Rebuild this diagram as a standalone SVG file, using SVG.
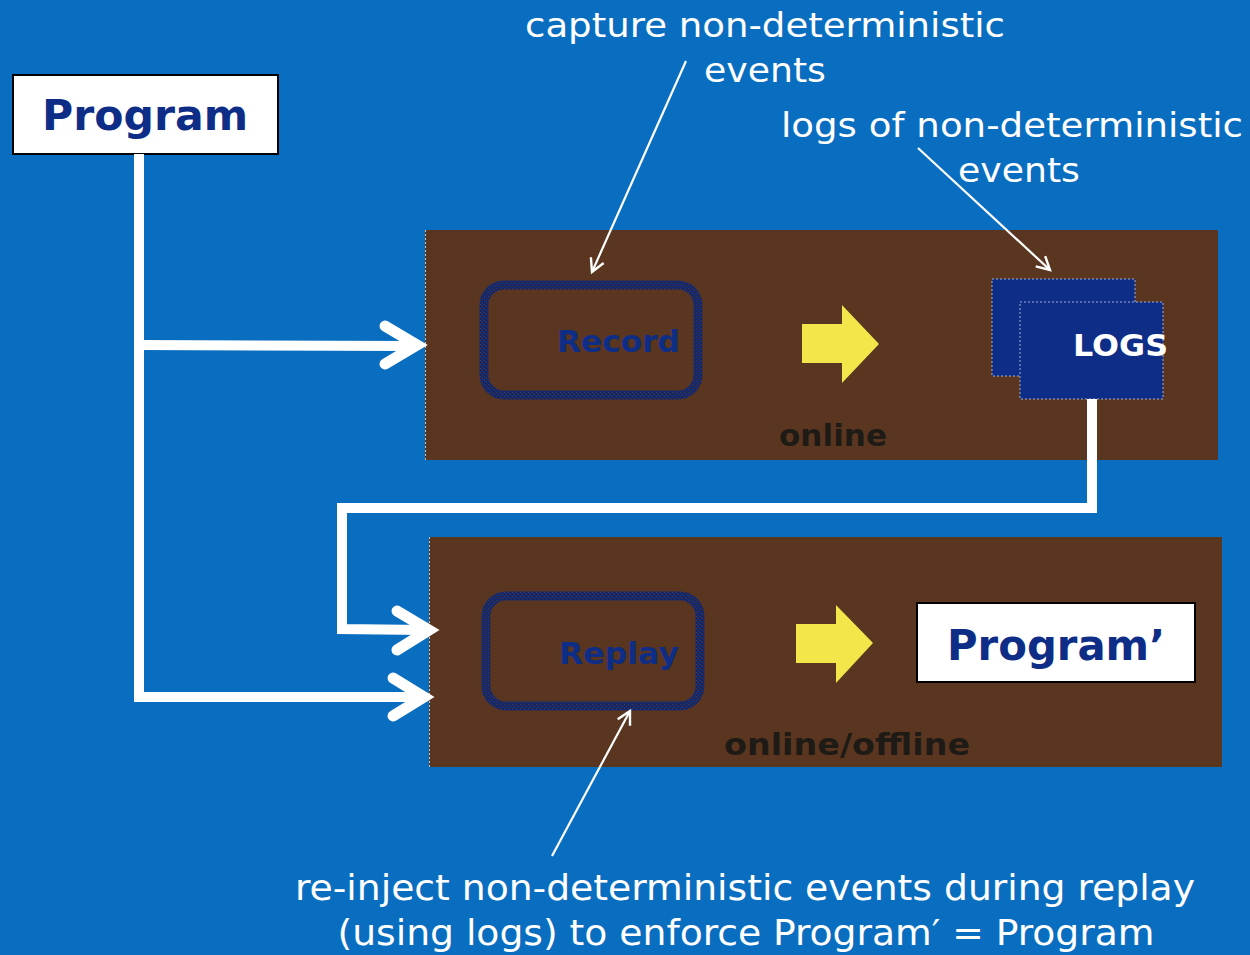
<svg xmlns="http://www.w3.org/2000/svg" width="1250" height="955" viewBox="0 0 1250 955">
<defs>
<style>
.lbl{font-family:"DejaVu Sans","Liberation Sans",sans-serif;fill:#fff;font-size:34px;text-anchor:middle}
.bot{font-family:"DejaVu Sans Condensed","DejaVu Sans",sans-serif;fill:#fff;font-size:36px;text-anchor:middle}
.big{font-family:"DejaVu Sans","Liberation Sans",sans-serif;fill:#0d2d87;font-size:42px;font-weight:bold;text-anchor:middle}
.mid{font-family:"DejaVu Sans","Liberation Sans",sans-serif;fill:#0d2d87;font-size:31px;font-weight:bold;text-anchor:end}
.dark{font-family:"DejaVu Sans","Liberation Sans",sans-serif;fill:#1e1a16;font-size:30px;font-weight:bold;text-anchor:middle}
.panel{fill:#5a3620}
.wire{fill:none;stroke:#fff;stroke-width:10}
.chev{fill:none;stroke:#fff;stroke-width:11;stroke-linecap:round;stroke-linejoin:miter}
.thin{fill:none;stroke:#fff;stroke-width:2.2}
.yarrow{fill:#f2e64a}
.wbox{fill:#fff;stroke:#000;stroke-width:2}
.step{fill:none;stroke:url(#tex);stroke-width:9}
.log{fill:#0d2d87;stroke:#9fb0d8;stroke-width:1;stroke-dasharray:2 2}
</style>
<pattern id="tex" width="4" height="4" patternUnits="userSpaceOnUse">
<rect width="4" height="4" fill="#14286e"/>
<rect x="0" y="0" width="1" height="1" fill="#5a3620"/>
<rect x="2" y="2" width="1" height="1" fill="#5a3620"/>
</pattern>
<marker id="ah" markerWidth="18" markerHeight="18" refX="15" refY="9" orient="auto" markerUnits="userSpaceOnUse">
<path d="M2,2 L15,9 L2,16" fill="none" stroke="#fff" stroke-width="2.4"/>
</marker>
</defs>
<rect width="1250" height="955" fill="#0a6ec0"/>

<g id="panel-online">
<rect class="panel" x="425" y="230" width="793" height="230"/>
<line x1="425.5" y1="230" x2="425.5" y2="460" stroke="#c9c2b8" stroke-width="1" stroke-dasharray="2 2"/>
<text class="dark" x="833" y="446" textLength="108" lengthAdjust="spacingAndGlyphs">online</text>
</g>
<g id="panel-offline">
<rect class="panel" x="429" y="537" width="793" height="230"/>
<line x1="429.5" y1="537" x2="429.5" y2="767" stroke="#c9c2b8" stroke-width="1" stroke-dasharray="2 2"/>
<text class="dark" x="847" y="755" textLength="246" lengthAdjust="spacingAndGlyphs">online/offline</text>
</g>

<g id="program">
<rect class="wbox" x="13" y="75" width="265" height="79"/>
<text class="big" x="145" y="130" textLength="206" lengthAdjust="spacingAndGlyphs">Program</text>
</g>

<g id="record">
<rect class="step" x="484" y="285" width="214" height="110" rx="20"/>
<text class="mid" x="680" y="352" textLength="123" lengthAdjust="spacingAndGlyphs">Record</text>
</g>

<g id="arrow-record">
<path class="yarrow" d="M802,324 H842 V305 L879,344 L842,383 V363 H802 Z"/>
</g>

<g id="logs">
<rect class="log" x="992" y="279" width="143" height="97"/>
<rect class="log" x="1020" y="302" width="143" height="97"/>
<text x="1073" y="356" textLength="95" lengthAdjust="spacingAndGlyphs" style="font-family:'DejaVu Sans','Liberation Sans',sans-serif;fill:#fff;font-size:30px;font-weight:bold">LOGS</text>
</g>

<g id="replay">
<rect class="step" x="486" y="596" width="214" height="110" rx="20"/>
<text class="mid" x="679" y="664" textLength="120" lengthAdjust="spacingAndGlyphs">Replay</text>
</g>

<g id="arrow-replay">
<path class="yarrow" d="M796,624 H836 V605 L873,643 L836,683 V663 H796 Z"/>
</g>

<g id="program-prime">
<rect class="wbox" x="917" y="603" width="278" height="79"/>
<text class="big" x="1056" y="660" textLength="218" lengthAdjust="spacingAndGlyphs">Program’</text>
</g>

<g id="connectors">
<path class="wire" d="M139,154 V697 H415"/>
<path class="wire" d="M139,345 L412,346"/>
<path class="wire" d="M1092,399 V508 H342 V629 L425,630"/>
<path class="chev" d="M385,326 L417,345 L385,364"/>
<path class="chev" d="M397,611 L429,630 L397,650"/>
<path class="chev" d="M393,678 L424,697 L393,716"/>
<line class="thin" x1="686" y1="61" x2="592" y2="272" marker-end="url(#ah)"/>
<line class="thin" x1="918" y1="148" x2="1050" y2="270" marker-end="url(#ah)"/>
<line class="thin" x1="552" y1="856" x2="630" y2="711" marker-end="url(#ah)"/>
</g>

<g id="labels">
<text class="lbl" x="765" y="37" textLength="480" lengthAdjust="spacingAndGlyphs">capture non-deterministic</text>
<text class="lbl" x="765" y="82" textLength="122" lengthAdjust="spacingAndGlyphs">events</text>
<text class="lbl" x="1012" y="137" textLength="462" lengthAdjust="spacingAndGlyphs">logs of non-deterministic</text>
<text class="lbl" x="1019" y="182" textLength="122" lengthAdjust="spacingAndGlyphs">events</text>
<text class="bot" x="745" y="900" textLength="900" lengthAdjust="spacingAndGlyphs">re-inject non-deterministic events during replay</text>
<text class="bot" x="746" y="945" textLength="817" lengthAdjust="spacingAndGlyphs">(using logs) to enforce Program′ = Program</text>
</g>
</svg>
